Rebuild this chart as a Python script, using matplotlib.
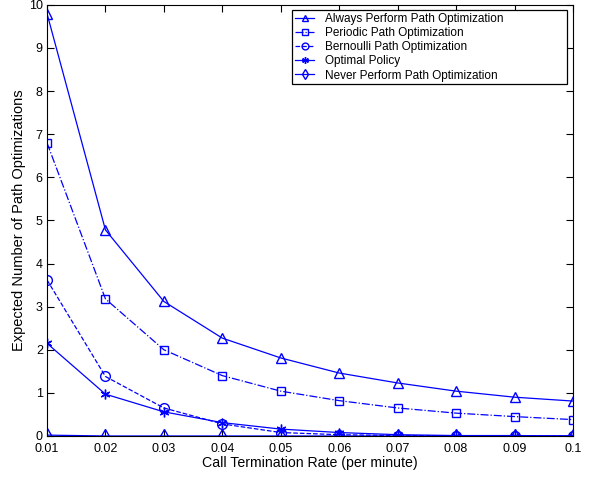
import matplotlib
matplotlib.use("Agg")
import matplotlib.pyplot as plt

plt.rcParams['font.family'] = ['Liberation Sans', 'DejaVu Sans']

x = [0.01, 0.02, 0.03, 0.04, 0.05, 0.06, 0.07, 0.08, 0.09, 0.10]
always = [9.8, 4.78, 3.12, 2.27, 1.81, 1.46, 1.23, 1.04, 0.90, 0.81]
periodic = [6.8, 3.18, 2.0, 1.4, 1.04, 0.82, 0.65, 0.53, 0.45, 0.38]
bernoulli = [3.62, 1.38, 0.65, 0.28, 0.08, 0.03, 0.01, 0.005, 0.0, 0.0]
optimal = [2.15, 0.97, 0.56, 0.31, 0.16, 0.08, 0.03, 0.01, 0.01, 0.0]
never = [0.02, 0.0, 0.0, 0.0, 0.0, 0.0, 0.0, 0.0, 0.0, 0.0]
xticks = [0.01, 0.02, 0.03, 0.04, 0.05, 0.06, 0.07, 0.08, 0.09, 0.1]
xticklabels = ['0.01', '0.02', '0.03', '0.04', '0.05', '0.06', '0.07', '0.08', '0.09', '0.1']

fig = plt.figure(figsize=(5.95, 4.79), dpi=100)
ax = fig.add_axes([0.079, 0.0898, 0.884, 0.9])
c = 'blue'
ax.plot(x, always, '-', color=c, marker='^', mfc='none', ms=7, lw=0.9, label='Always Perform Path Optimization')
ax.plot(x, periodic, '-.', color=c, marker='s', mfc='none', ms=6, lw=0.9, label='Periodic Path Optimization')
ax.plot(x, bernoulli, '--', color=c, marker='o', mfc='none', ms=7, lw=0.9, label='Bernoulli Path Optimization')
ax.plot(x, optimal, '-', color=c, marker=(6, 2, 0), ms=7, lw=0.9, label='Optimal Policy')
ax.plot(x, never, '-', color=c, marker='d', mfc='none', ms=7, lw=0.9, label='Never Perform Path Optimization')

ax.set_xlim(0.01, 0.1)
ax.set_ylim(0, 10)
ax.set_xticks(xticks)
ax.set_xticklabels(xticklabels)
ax.set_yticks(range(0, 11))
ax.tick_params(direction='in', top=True, right=True, labelsize=9, length=5, pad=3)
ax.tick_params(axis='x', pad=5)
ax.set_xlabel('Call Termination Rate (per minute)', fontsize=10.2, labelpad=1)
ax.set_ylabel('Expected Number of Path Optimizations', fontsize=10.5, labelpad=2)
for s in ax.spines.values():
    s.set_linewidth(0.8)
leg = ax.legend(loc='upper left', mode='expand', fontsize=8.5, frameon=True, fancybox=False,
                edgecolor='black', borderpad=0.25, labelspacing=0.18, handlelength=1.6,
                handletextpad=0.9, markerscale=0.7, borderaxespad=0,
                bbox_to_anchor=(0.466, 0.817, 0.523, 0.171), framealpha=1)
leg.get_frame().set_linewidth(0.9)
fig.savefig('out.png', dpi=100)
